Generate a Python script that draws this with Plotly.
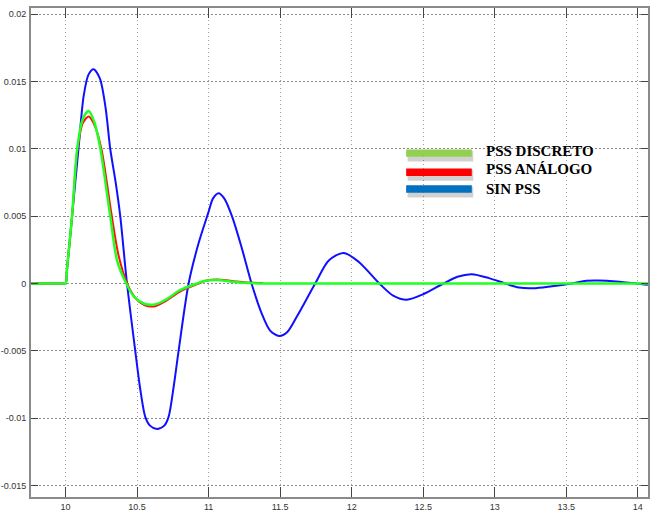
import plotly.graph_objects as go

# ---- data ----
t_blue = [9.758, 9.98, 10.0, 10.01, 10.045, 10.09, 10.126, 10.16, 10.196, 10.24, 10.28, 10.312, 10.35, 10.382,
          10.429, 10.487, 10.52, 10.557, 10.59, 10.639, 10.69, 10.72, 10.755, 10.79, 10.86, 10.93, 10.999, 11.03,
          11.069, 11.11, 11.163, 11.23, 11.30, 11.37, 11.43, 11.493, 11.55, 11.62, 11.745, 11.84,
          11.943, 12.05, 12.194, 12.29, 12.386, 12.50, 12.642, 12.74, 12.84, 12.96, 13.073, 13.17,
          13.27, 13.40, 13.54, 13.64, 13.725, 13.85, 13.99, 14.072]
v_blue = [0.0, 0.0, 0.0, 0.0011, 0.0050, 0.0100, 0.0139, 0.0155, 0.0159, 0.0152, 0.0130, 0.0100, 0.0075, 0.0050,
          0.0, -0.0050, -0.0077, -0.0099, -0.01055, -0.0108, -0.01055, -0.0099, -0.0077, -0.0050, 0.0, 0.0030, 0.0053, 0.0063,
          0.0067, 0.0063, 0.0050, 0.0027, 0.0, -0.0022, -0.0035, -0.0039, -0.0036, -0.0024, 0.0, 0.0017,
          0.00227, 0.0016, 0.0, -0.0009, -0.0012, -0.0008, 0.0, 0.0005, 0.00069, 0.0004, 0.0, -0.0003,
          -0.00035, -0.0002, 0.0, 0.0002, 0.00022, 0.00015, 0.0, -0.0001]

t_green = [9.758, 9.98, 10.0, 10.01, 10.045, 10.08, 10.12, 10.161, 10.20, 10.243, 10.312, 10.36, 10.424, 10.48,
           10.55, 10.627, 10.70, 10.80, 10.918, 10.98, 11.058, 11.15, 11.25, 11.40, 14.072]
v_green = [0.0, 0.0, 0.0, 0.0011, 0.0050, 0.0099, 0.0122, 0.0128, 0.0120, 0.0100, 0.0050, 0.0017, 0.0, -0.0010,
           -0.0015, -0.00155, -0.0012, -0.0005, 0.0, 0.0002, 0.00025, 0.00015, 0.00005, 0.0, 0.0]

t_red = [9.758, 9.98, 10.0, 10.01, 10.045, 10.08, 10.12, 10.161, 10.20, 10.25, 10.32, 10.37, 10.43, 10.49,
         10.55, 10.62, 10.70, 10.80, 10.92, 10.98, 11.06, 11.15, 11.25, 11.38]
v_red = [0.0, 0.0, 0.0, 0.0011, 0.0049, 0.0097, 0.0119, 0.0124, 0.0118, 0.0100, 0.0052, 0.0021, 0.0, -0.0011,
         -0.0016, -0.0017, -0.0013, -0.0006, -0.00005, 0.0002, 0.0003, 0.0002, 0.0001, 0.00003]

legend_labels = ["PSS DISCRETO", "PSS ANÁLOGO", "SIN PSS"]
legend_colors = ["#92d050", "#ff0000", "#0070c0"]

x_ticks = [10, 10.5, 11, 11.5, 12, 12.5, 13, 13.5, 14]
x_ticktext = ["10", "10.5", "11", "11.5", "12", "12.5", "13", "13.5", "14"]
y_ticks = [0.02, 0.015, 0.01, 0.005, 0, -0.005, -0.01, -0.015]
y_ticktext = ["0.02", "0.015", "0.01", "0.005", "0", "-0.005", "-0.01", "-0.015"]

fig = go.Figure()
fig.add_trace(go.Scatter(x=t_blue, y=v_blue, mode="lines", line=dict(color="#1010ff", width=2, shape="spline", smoothing=0.8), showlegend=False))
fig.add_trace(go.Scatter(x=t_red, y=v_red, mode="lines", line=dict(color="#ff1010", width=2, shape="spline", smoothing=0.8), showlegend=False))
fig.add_trace(go.Scatter(x=t_green, y=v_green, mode="lines", line=dict(color="#22ff22", width=2.5, shape="spline", smoothing=0.8), showlegend=False))

# legend image (bars with shadow + bold serif text)
bar_x0, bar_x1 = 12.381, 12.840
bar_y = [(0.00995, 0.0094), (0.00854, 0.00797), (0.0073, 0.00673)]
text_y = [0.00985, 0.00852, 0.00705]
shapes = []
annotations = []
for (y0, y1), ty, lab, col in zip(bar_y, text_y, legend_labels, legend_colors):
    shapes.append(dict(type="rect", xref="x", yref="y", x0=bar_x0 + 0.01, x1=bar_x1 + 0.01,
                       y0=y1 - 0.00035, y1=y0 - 0.0001, fillcolor="rgba(0,0,0,0.18)", line=dict(width=0), layer="above"))
    shapes.append(dict(type="rect", xref="x", yref="y", x0=bar_x0, x1=bar_x1, y0=y1, y1=y0,
                       fillcolor=col, line=dict(width=0), layer="above"))
    annotations.append(dict(x=12.928, y=ty, xref="x", yref="y", text="<b>%s</b>" % lab, showarrow=False,
                            xanchor="left", yanchor="middle",
                            font=dict(family="Liberation Serif, Times New Roman, serif", size=15, color="#000000")))

tick_font = dict(family="Liberation Sans Narrow, Arial Narrow, Liberation Sans, sans-serif", size=9, color="#333333")

fig.update_layout(
    width=656, height=513,
    margin=dict(l=31, r=8, t=8, b=16),
    paper_bgcolor="white", plot_bgcolor="white",
    shapes=shapes, annotations=annotations,
    xaxis=dict(range=[9.758, 14.072], tickvals=x_ticks, ticktext=x_ticktext, automargin=False,
               showgrid=True, gridcolor="#a0a0a0", griddash="1px,3px", gridwidth=1,
               showline=True, linecolor="#8a8a8a", linewidth=2, mirror="allticks",
               ticks="inside", ticklen=10, tickcolor="#444444", tickwidth=1,
               zeroline=False, tickfont=tick_font),
    yaxis=dict(range=[-0.015846, 0.020446], tickvals=y_ticks, ticktext=y_ticktext, automargin=False,
               showgrid=True, gridcolor="#8a8a8a", griddash="2px,2px", gridwidth=1,
               showline=True, linecolor="#8a8a8a", linewidth=2, mirror="allticks",
               ticks="inside", ticklen=7, tickcolor="#444444", tickwidth=1,
               zeroline=False, tickfont=tick_font, ticklabelstandoff=1),
)

fig.write_html("out.html")
